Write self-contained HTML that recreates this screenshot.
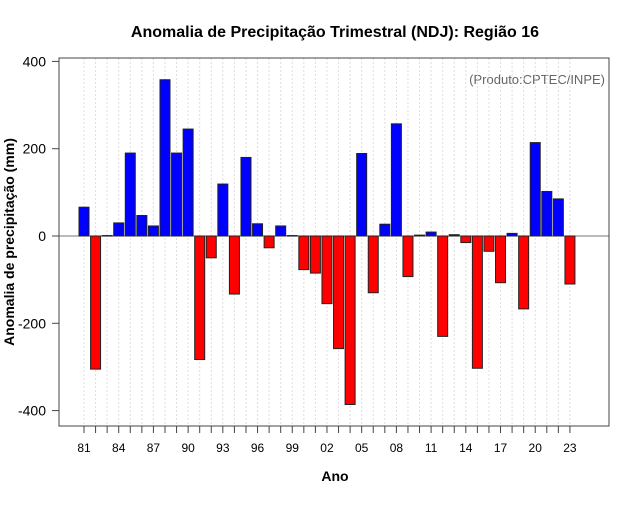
<!DOCTYPE html>
<html><head><meta charset="utf-8"><style>
body{margin:0;background:#fff;font-family:"Liberation Sans",sans-serif}
</style></head><body>
<svg id="c" width="640" height="500" xmlns="http://www.w3.org/2000/svg">
<rect width="640" height="500" fill="#fff"/>
<text x="335" y="37" font-size="16" font-weight="bold" text-anchor="middle">Anomalia de Precipitação Trimestral (NDJ): Região 16</text>
<text x="335" y="481" font-size="14" font-weight="bold" text-anchor="middle">Ano</text>
<text transform="translate(14,242) rotate(-90)" font-size="14" font-weight="bold" text-anchor="middle">Anomalia de precipitação (mm)</text>
<text x="605" y="84" font-size="13" fill="#666" text-anchor="end">(Produto:CPTEC/INPE)</text>
<g id="grid"></g><g id="bars"></g><g id="axes"></g>
<rect x="59" y="58" width="550" height="368" fill="none" stroke="#444" stroke-width="1"/>
</svg>
<script>
const years = [81,82,83,84,85,86,87,88,89,90,91,92,93,94,95,96,97,98,99,0,1,2,3,4,5,6,7,8,9,10,11,12,13,14,15,16,17,18,19,20,21,22,23];
const values = [66,-305,1,30,190,47,23,358,190,245,-283,-50,119,-133,180,28,-27,23,1,-77,-85,-155,-258,-386,189,-130,27,257,-93,2,9,-230,3,-15,-303,-35,-107,6,-167,214,102,85,-110];
const yTicks = [-400,-200,0,200,400];
const NS='http://www.w3.org/2000/svg';
const x = i => 84 + i*11.57;
const y = v => 236 - v*0.4365;
function mk(t,a,p){const e=document.createElementNS(NS,t);for(const k in a)e.setAttribute(k,a[k]);p.appendChild(e);return e;}
const grid=document.getElementById('grid'),bars=document.getElementById('bars'),axes=document.getElementById('axes');
years.forEach((yr,i)=>{
  const gl=mk('line',{x1:x(i),x2:x(i),y1:58,y2:426,stroke:'#ddd','stroke-dasharray':'2,2'},grid);
  
  
  const tk=mk('line',{x1:x(i),x2:x(i),y1:426,y2:433,stroke:'#444'},axes);
  
  
  if(i%3===0){
    const t=mk('text',{x:x(i),y:452,'font-size':12,'text-anchor':'middle'},axes);
    t.textContent=String(yr).padStart(2,'0');
    
    
  }
});
const zl=mk('line',{x1:59,x2:609,y1:y(0),y2:y(0),stroke:'#777'},grid);


values.forEach((v,i)=>{
  const top=Math.min(y(v),y(0)),h=Math.abs(y(v)-y(0));
  const r=mk('rect',{x:x(i)-5,y:top,width:10,height:Math.max(h,0.5),fill:v>=0?'#0000ff':'#ff0000',stroke:'#222','stroke-width':1},bars);
  
  
});
yTicks.forEach(v=>{
  const tk=mk('line',{x1:52,x2:59,y1:y(v),y2:y(v),stroke:'#444'},axes);
  
  
  const t=mk('text',{x:46,y:y(v)+5,'font-size':14,'text-anchor':'end'},axes);
  t.textContent=v;
  
  
});
</script>
</body></html>
